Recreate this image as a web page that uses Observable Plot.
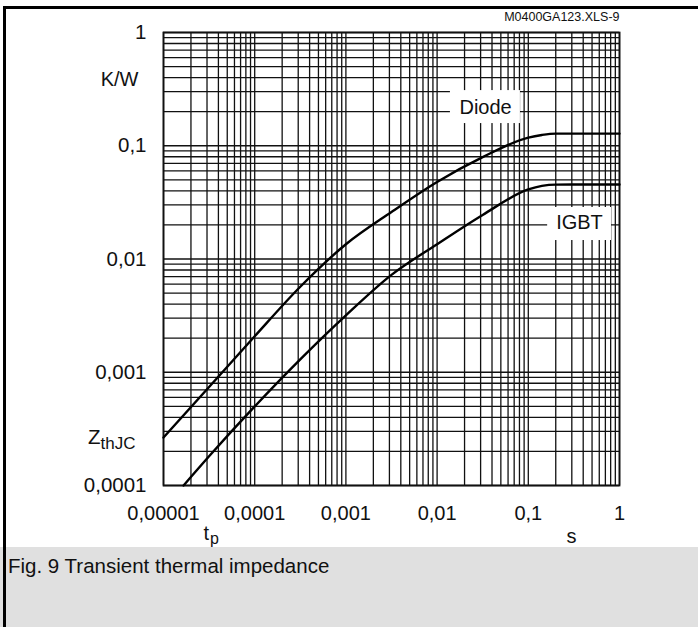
<!DOCTYPE html>
<html>
<head>
<meta charset="utf-8">
<script src="https://cdn.jsdelivr.net/npm/d3@7"></script>
<script src="https://cdn.jsdelivr.net/npm/@observablehq/plot@0.6"></script>
<style>
  html, body { margin: 0; padding: 0; background: #fff; }
  body { width: 698px; height: 627px; position: relative; overflow: hidden; font-family: "Liberation Sans", Arial, sans-serif; }
  #chart { position: absolute; left: 0; top: 0; }
  #caption { position: absolute; left: 0; top: 547px; width: 698px; height: 80px; background: #e0e0e0; }
  #caption span { position: absolute; left: 8px; top: 7px; font-size: 20.5px; color: #111; white-space: nowrap; }
  #bt { position: absolute; left: 3px; top: 6px; width: 695px; height: 2.5px; background: #000; }
  #bl { position: absolute; left: 3px; top: 6px; width: 3px; height: 621px; background: #000; }
</style>
</head>
<body>
<div id="chart"></div>
<div id="caption"><span>Fig. 9 Transient thermal impedance</span></div>
<div id="bt"></div>
<div id="bl"></div>
<script>
// ---- data ----
const diodeT = [1e-5, 3.16e-5, 1e-4, 3.16e-4, 1e-3, 3.16e-3, 1e-2, 3.16e-2, 0.1, 0.141, 0.2, 0.5, 1];
const diodeZ = [2.65e-4, 7.41e-4, 2.08e-3, 5.69e-3, 0.01349, 0.0260, 0.0479, 0.0794, 0.118, 0.1245, 0.128, 0.128, 0.128];
const igbtT  = [1.66e-5, 3.16e-5, 1e-4, 3.16e-4, 1e-3, 3.16e-3, 1e-2, 3.16e-2, 0.1, 0.141, 0.2, 0.5, 1];
const igbtZ  = [1e-4, 1.81e-4, 4.99e-4, 1.30e-3, 3.18e-3, 7.24e-3, 0.0135, 0.0245, 0.0411, 0.0442, 0.0454, 0.0455, 0.0455];

const xTicks = [1e-5, 1e-4, 1e-3, 1e-2, 1e-1, 1];
const xTickLabels = ["0,00001", "0,0001", "0,001", "0,01", "0,1", "1"];
const yTicks = [1e-4, 1e-3, 1e-2, 1e-1, 1];
const yTickLabels = ["0,0001", "0,001", "0,01", "0,1", "1"];

const gridMultipliers = [1, 2, 3, 4, 5, 6, 7, 8, 9];
const xDecades = [1e-5, 1e-4, 1e-3, 1e-2, 1e-1];
const yDecades = [1e-4, 1e-3, 1e-2, 1e-1];

const seriesNames = ["Diode", "IGBT"];
// label anchors (data units) and white label boxes
const labelX = [0.034, 0.364];
const labelY = [0.218, 0.0208];
const boxX1 = [0.014, 0.163];
const boxX2 = [0.082, 0.817];
const boxY1 = [0.157, 0.01456];
const boxY2 = [0.307, 0.0285];

// ---- build tables ----
const xGrid = xDecades.flatMap(d => gridMultipliers.map(m => m * d)).concat([1]);
const yGrid = yDecades.flatMap(d => gridMultipliers.map(m => m * d)).concat([1]);
const diode = diodeT.map((t, i) => ({t, z: diodeZ[i]}));
const igbt = igbtT.map((t, i) => ({t, z: igbtZ[i]}));
const labels = seriesNames.map((name, i) => ({name, x: labelX[i], y: labelY[i]}));
const boxes = seriesNames.map((name, i) => ({x1: boxX1[i], x2: boxX2[i], y1: boxY1[i], y2: boxY2[i]}));

const font = "Liberation Sans, Arial, sans-serif";

const chart = Plot.plot({
  width: 698,
  height: 547,
  marginTop: 32,
  marginLeft: 163,
  marginRight: 79,
  marginBottom: 62,
  style: {fontFamily: font, color: "#111", background: "transparent"},
  x: {type: "log", domain: [1e-5, 1], axis: null},
  y: {type: "log", domain: [1e-4, 1], axis: null},
  marks: [
    Plot.ruleX(xGrid, {x: d => d, stroke: "#111", strokeWidth: 1.3}),
    Plot.ruleY(yGrid, {y: d => d, stroke: "#111", strokeWidth: 1.3}),
    Plot.rect(boxes, {x1: "x1", x2: "x2", y1: "y1", y2: "y2", fill: "white"}),
    Plot.frame({stroke: "#111", strokeWidth: 1.8}),
    Plot.line(diode, {x: "t", y: "z", stroke: "#000", strokeWidth: 2.4, curve: "monotone-x"}),
    Plot.line(igbt, {x: "t", y: "z", stroke: "#000", strokeWidth: 2.4, curve: "monotone-x"}),
    Plot.text(labels, {x: "x", y: "y", text: "name", fontSize: "20px", fill: "#111"}),
    Plot.text(xTicks, {x: d => d, text: (d, i) => xTickLabels[i], frameAnchor: "bottom", dy: 28, lineAnchor: "middle", fontSize: "20px", fill: "#111"}),
    Plot.text(yTicks, {y: d => d, text: (d, i) => yTickLabels[i], frameAnchor: "left", dx: -17, textAnchor: "end", lineAnchor: "middle", fontSize: "20.5px", fill: "#111"}),
    Plot.text(["K/W"], {frameAnchor: "top-left", dx: -25, dy: 47, textAnchor: "end", lineAnchor: "middle", fontSize: "20px", fill: "#111"}),
    Plot.text(["Z"], {frameAnchor: "bottom-left", dx: -63, dy: -48.5, textAnchor: "end", lineAnchor: "middle", fontSize: "20.5px", fill: "#111"}),
    Plot.text(["thJC"], {frameAnchor: "bottom-left", dx: -63, dy: -42, textAnchor: "start", lineAnchor: "middle", fontSize: "17px", fill: "#111"}),
    Plot.text(["t"], {frameAnchor: "bottom-left", dx: 40, dy: 48.5, textAnchor: "start", lineAnchor: "middle", fontSize: "20px", fill: "#111"}),
    Plot.text(["p"], {frameAnchor: "bottom-left", dx: 46.5, dy: 53.5, textAnchor: "start", lineAnchor: "middle", fontSize: "16px", fill: "#111"}),
    Plot.text(["s"], {frameAnchor: "bottom-left", dx: 408, dy: 51.5, textAnchor: "middle", lineAnchor: "middle", fontSize: "20px", fill: "#111"}),
    Plot.text(["M0400GA123.XLS-9"], {frameAnchor: "top-right", dy: -16, textAnchor: "end", lineAnchor: "middle", fontSize: "12.5px", fill: "#111"})
  ]
});
document.getElementById("chart").appendChild(chart);
</script>
</body>
</html>
